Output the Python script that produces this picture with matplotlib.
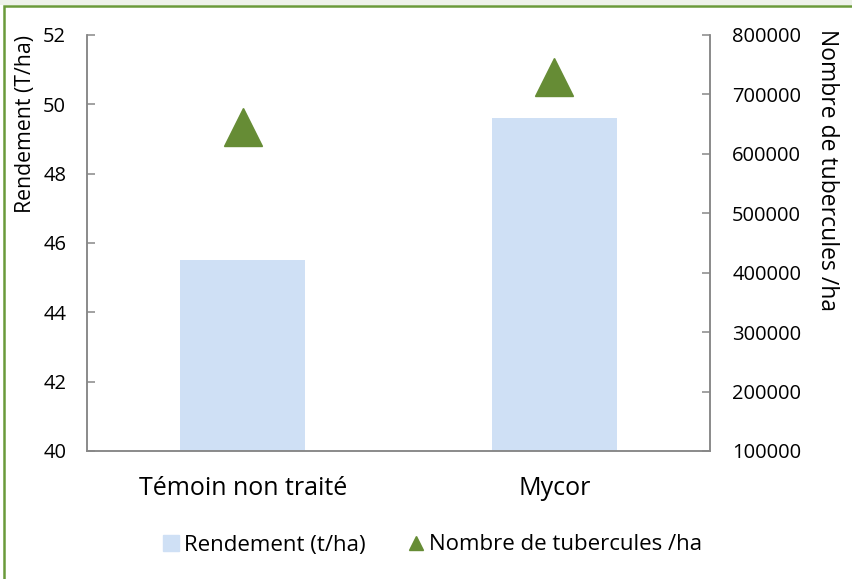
import matplotlib
matplotlib.use("Agg")
import matplotlib.pyplot as plt
from matplotlib.patches import Rectangle
from matplotlib.lines import Line2D

# données
categories = ["Témoin non traité", "Mycor"]
rendement = [45.5, 49.6]          # T/ha (axe gauche)
tubercules = [645000, 730000]     # nombre /ha (axe droit)

left_ticks = [40, 42, 44, 46, 48, 50, 52]
right_ticks = [100000, 200000, 300000, 400000, 500000, 600000, 700000, 800000]

plt.rcParams['font.family'] = ['Open Sans', 'DejaVu Sans']

bar_color = '#cfe0f5'
tri_color = '#668c35'
axis_color = '#878787'

fig = plt.figure(figsize=(8.53, 5.79), dpi=100)
ax = fig.add_axes([87 / 853, 1 - 451 / 579, (710 - 87) / 853, (451 - 35) / 579])
x = list(range(len(categories)))

ax.bar(x, rendement, width=0.40, color=bar_color, zorder=2)
ax.set_ylim(40, 52)
ax.set_xlim(-0.5, 1.5)
ax.set_yticks(left_ticks)
ax.set_xticks(x)
ax.set_xticklabels(categories, fontsize=18)
ax.tick_params(axis='x', length=0, pad=18)
ax.tick_params(axis='y', direction='in', length=6, width=1.1, color=axis_color,
               labelsize=14.5, pad=15)

ax2 = ax.twinx()
ax2.plot(x, tubercules, linestyle='none', marker='^', markersize=27,
         color=tri_color, zorder=3)
ax2.set_ylim(100000, 800000)
ax2.set_yticks(right_ticks)
ax2.set_yticklabels([str(v) for v in right_ticks])
ax2.tick_params(axis='y', direction='in', length=6, width=1.1, color=axis_color,
                labelsize=14.5, pad=16)

for a in (ax, ax2):
    a.spines['top'].set_visible(False)
    for s in ('left', 'right', 'bottom'):
        a.spines[s].set_color(axis_color)
        a.spines[s].set_linewidth(1.1)

fig.text(26 / 853, 1 - 124 / 579, "Rendement (T/ha)", rotation=90,
         ha='center', va='center', fontsize=15.3)
fig.text(827 / 853, 1 - 170 / 579, "Nombre de tubercules /ha", rotation=270,
         ha='center', va='center', fontsize=16.5)

handles = [
    Line2D([], [], linestyle='none', marker='s', markersize=11, color=bar_color),
    Line2D([], [], linestyle='none', marker='^', markersize=10, color=tri_color),
]
fig.legend(handles, ["Rendement (t/ha)", "Nombre de tubercules /ha"],
           loc='center', bbox_to_anchor=(431 / 853, 1 - 545 / 579), ncol=2,
           frameon=False, fontsize=16, handletextpad=0.05, columnspacing=1.8,
           handlelength=1.0)

# bande claire en haut et cadre vert
fig.patches.append(Rectangle((0, 1 - 5 / 579), 1, 5 / 579, transform=fig.transFigure,
                             facecolor='#eef2ea', edgecolor='none', zorder=0))
fig.patches.append(Rectangle((4.5 / 853, -0.1), 1.2, 1.1 - 5.5 / 579,
                             transform=fig.transFigure, facecolor='none',
                             edgecolor='#6a9a3a', linewidth=1.8, zorder=5))

fig.savefig("out.png", dpi=100)
